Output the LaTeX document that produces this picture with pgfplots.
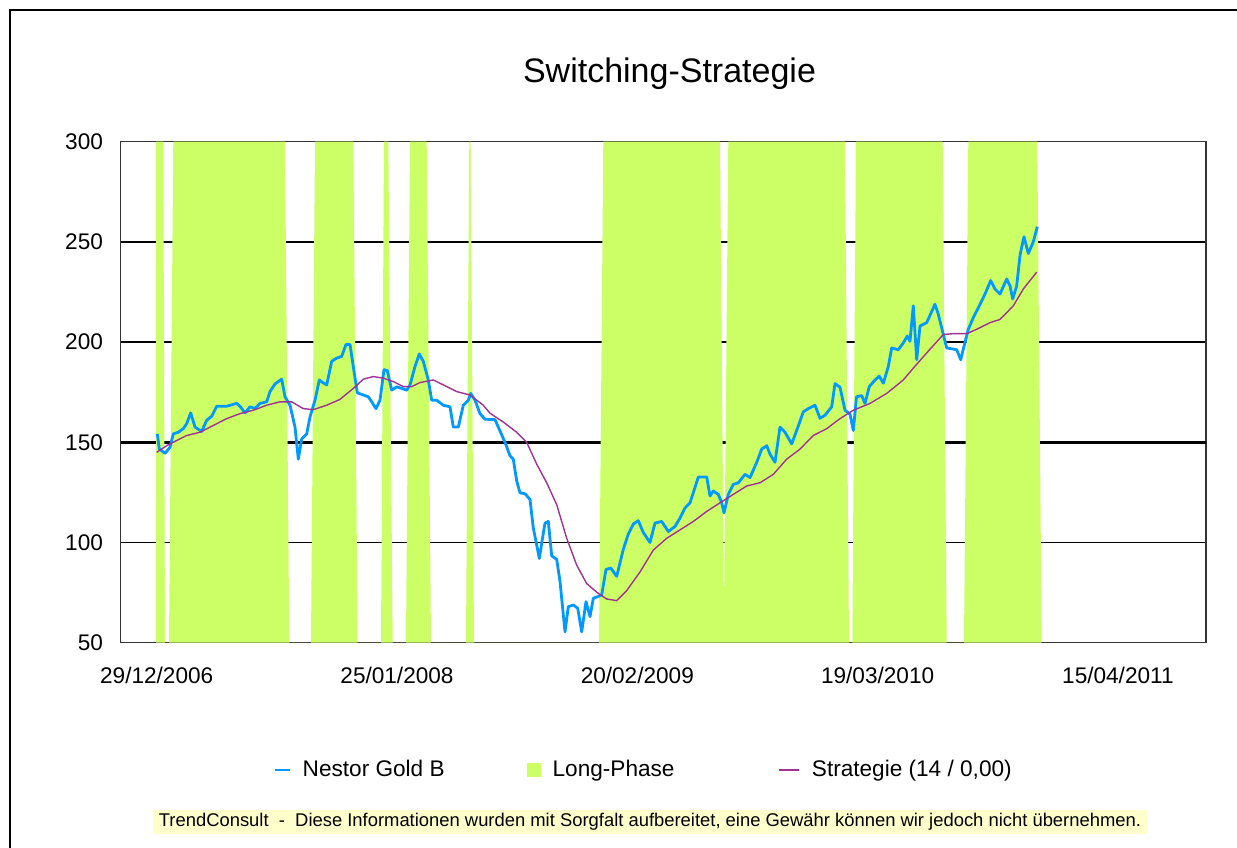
\documentclass[border=0pt]{standalone}
\usepackage{fontspec}
\setmainfont{Liberation Sans}
\usepackage{pgfplots}
\pgfplotsset{compat=1.18}
\definecolor{nblue}{RGB}{0,153,255}
\definecolor{lgreen}{RGB}{204,255,102}
\definecolor{spurple}{RGB}{160,50,150}
\definecolor{footbg}{RGB}{255,255,204}
\pgfplotsset{
  shortline/.style={legend image code/.code={\draw[##1] (0pt,0pt) -- (7.5pt,0pt);}},
  longline/.style={legend image code/.code={\draw[##1] (0pt,0pt) -- (10pt,0pt);}},
  sqbox/.style={legend image code/.code={\fill[##1] (0pt,-3.5pt) rectangle (7pt,3.5pt);}},
}
\begin{document}
\begin{tikzpicture}
\useasboundingbox (0,0) rectangle (618.5pt,423.5pt);
\draw[line width=1pt, black] (5pt,-2pt) -- (5pt,418.5pt) -- (622pt,418.5pt);
\node[anchor=base, inner sep=0pt, font=\fontsize{17}{20}\selectfont] at (334.75pt,382pt) {Switching-Strategie};
\begin{axis}[
  at={(60.35pt,102.15pt)}, anchor=south west,
  scale only axis, width=542.65pt, height=250.5pt,
  xmin=120.7, xmax=1206, ymin=50, ymax=300,
  xtick={156.7,397,637.3,877.6,1117.9},
  xticklabels={29/12/2006,25/01/2008,20/02/2009,19/03/2010,15/04/2011},
  ytick={50,100,150,200,250,300},
  ymajorgrids, grid style={black, line width=0.75pt},
  extra y ticks={150}, extra y tick labels={},
  extra y tick style={grid style={black, line width=1.6pt}},
  major tick length=0pt,
  axis line style={line width=0.7pt, black!80},
  tick label style={font=\fontsize{11.3}{13}\selectfont},
  /pgf/number format/assume math mode=true,
  yticklabel style={anchor=east, inner sep=0pt, xshift=-8.7pt},
  xticklabel style={anchor=base, inner sep=0pt, yshift=-20.6pt},
  legend columns=3,
  legend cell align=left,
  legend style={at={(0.4808,-0.2541)}, anchor=center, draw=none, fill=none,
    inner sep=0pt, font=\fontsize{11.3}{13}\selectfont,
    nodes={inner sep=0pt},
    /tikz/every even column/.append style={column sep=41pt},
    /tikz/every odd column/.append style={column sep=6pt}},
]
\addlegendimage{nblue, line width=1.2pt, shortline}
\addlegendentry{Nestor Gold B}
\addlegendimage{fill=lgreen, draw=none, sqbox}
\addlegendentry{Long-Phase\hspace*{10.5pt}}
\addlegendimage{spurple, line width=1.2pt, longline}
\addlegendentry{Strategie (14 / 0,00)}

% Long-Phase areas
\addplot[fill=lgreen, draw=none, forget plot] coordinates {
(156,50) (156,300) (163.3,300) (165,50) (169,50) (173.3,300) (285,300) (289.3,50)
(311,50) (315,300) (353.3,300) (357.7,50) (381,50) (384,300) (388.3,300) (392.7,50)
(406,50) (410,300) (426.7,300) (431,50) (466,50) (469.3,300) (470.7,300) (474,50)
(599,50) (603.3,300) (720,300) (724,65) (728.3,300) (845,300) (849,50) (852.3,50)
(856,300) (942.7,300) (946.7,50) (964,50) (968.3,300) (1037.3,300) (1041.7,50)
};

% Nestor Gold B
\addplot[nblue, line width=1.4pt, line join=round, forget plot] coordinates {
(157.3,154.2) (159.3,146.7) (165,144.5) (170,147.5) (173.3,154.2) (178.3,155) (183.3,156.8)
(186.7,159.3) (190.7,164.7) (195,157.6) (201.7,155.4) (206.7,161) (211.7,163) (216.7,168)
(226.7,168) (236.7,169.4) (240,168) (245,164.7) (250,167.7) (255,166.9) (260,169.4)
(266.7,170.2) (270,175.3) (275,179.1) (281.7,181.5) (285,172.7) (290,168.5) (295,157.6)
(298.3,141.6) (301.7,151.7) (306.7,154.2) (310,162.6) (315,171) (319.3,181.1) (322.7,179.8)
(326.7,178.6) (331.7,190.4) (336.7,192) (341.7,192.9) (346,198.8) (350,198.8) (353.3,187.8)
(357.3,174.7) (363.3,173.6) (368.3,172.7) (371.7,170.2) (376,166.8) (380,171) (384,186.2)
(387.3,185.8) (391.7,176) (396.7,177.7) (401.7,176.9) (406.7,176) (410,178.6) (415,187.8)
(419.3,194.1) (423.3,190.4) (428.3,181.1) (431.7,171) (436.7,171) (443.3,168.5) (450,167.7)
(453.3,157.6) (458.3,157.6) (463.3,168.5) (468.3,171) (470.7,174.4) (475,171) (480,164.3)
(485,161.5) (495,161.3) (505,150) (510,143.3) (513.3,141.6) (516.7,130.7) (520,124.8)
(525,124.3) (530,121.5) (533.3,107.2) (536.7,98.8) (539.3,92) (541.7,99.6) (545,109.7)
(548.3,110.5) (551.7,93.3) (556.7,91.6) (560,80.6) (565,55.4) (568.3,68) (573.3,68.8)
(577.7,67.2) (581.7,55.4) (586,70.5) (590,63) (593.3,72.2) (598.3,73.1) (601.7,73.9)
(606,86.5) (610.7,87.3) (616.7,83.1) (623.3,96.6) (628.3,104.2) (633.3,109.2) (638.3,110.9)
(643.3,105) (650,100) (655,109.7) (661.7,110.5) (668.3,105.5) (675,108) (680,112.2)
(685,117.2) (690,119.8) (693.3,124.8) (698.3,132.7) (706.7,132.7) (710,123.2) (713.3,125.7)
(718.3,124) (721.7,119.8) (724,114.8) (728.3,124) (733.3,129) (738.3,129.8) (745,134)
(750,132.4) (756.7,140) (761.7,146.6) (766.7,148.3) (770,144.1) (775,140) (780,157.6)
(785,155) (791.7,149.2) (796.7,155.9) (803.3,165.2) (808.3,166.8) (815,168.5) (820,162)
(825,163.5) (831.7,167.7) (835,179.3) (840,177.5) (845,166) (850,164) (853.3,155.9)
(856.5,172.7) (861.7,173.3) (865,169.4) (869.3,177.8) (875,181.1) (879.3,183) (883.3,179.5)
(888.3,187.8) (891.7,197.1) (898.3,196.2) (903.3,199.6) (907.3,203) (910,200.4) (913.3,218.1)
(916.7,191.2) (920,208) (926.7,209.7) (935,218.9) (938.3,213.9) (943.3,203.8) (946.7,197.1)
(956.7,196.2) (960.7,191.2) (964,197.9) (968.3,206.4) (973.3,212.2) (979.3,218.1) (985,224)
(990.7,230.7) (995,226.5) (1000,224) (1006.7,231.5) (1010,228.1) (1012.7,221.5) (1016.7,228.1)
(1020,243.3) (1024,252.6) (1028.3,244.2) (1033.3,250) (1037.3,257.6)
};

% Strategie
\addplot[spurple, line width=0.7pt, forget plot] coordinates {
(156.7,145) (166.7,148.3) (176.7,150.9) (186.7,153.4) (200,155) (213.3,158.4) (226.7,161.8)
(240,164.3) (253.3,166) (266.7,168.5) (280,170.2) (291.7,170.2) (303.3,166.8) (313.3,166.3)
(326.7,168.5) (340,171.4) (353.3,176.9) (363.3,181.5) (373.3,182.8) (383.3,182) (393.3,180.3)
(403.3,177.8) (411.7,177.8) (420,179.8) (433.3,181.1) (446.7,177.8) (456.7,175.3) (470,173.6)
(483.3,168.5) (490,164.5) (503.3,160.1) (516.7,155) (526.7,150) (536.7,139.1) (546.7,129.8)
(556.7,118.9) (566.7,102.1) (576.7,88.7) (586.7,79.5) (596.7,75.2) (606.7,71.8) (616.7,71)
(626.7,76) (640,85.3) (653.3,96.2) (666.7,102.1) (680,106.3) (693.3,110.5) (706.7,115.5)
(720,119.8) (733.3,124) (746.7,128.2) (760,129.8) (773.3,134) (786.7,141.6) (800,146.6)
(813.3,153.4) (826.7,156.8) (840,161.8) (853.3,166) (870,169.4) (886.7,174.4) (903.3,181.1)
(913.3,187) (926.7,194.6) (943.3,203.8) (953.3,204.2) (966.7,204.2) (976.7,206.4) (990,209.7)
(1000,211.3) (1013.3,218.1) (1023.3,226.5) (1036.7,234.9)
};
\end{axis}
\node[fill=footbg, inner xsep=2.8pt, inner ysep=0pt, minimum height=12.2pt,
  font=\fontsize{9.2}{11}\selectfont] at (325pt,12.6pt)
  {TrendConsult\ \ -\ \ Diese Informationen wurden mit Sorgfalt aufbereitet, eine Gewähr können wir jedoch nicht übernehmen.};
\end{tikzpicture}
\end{document}
